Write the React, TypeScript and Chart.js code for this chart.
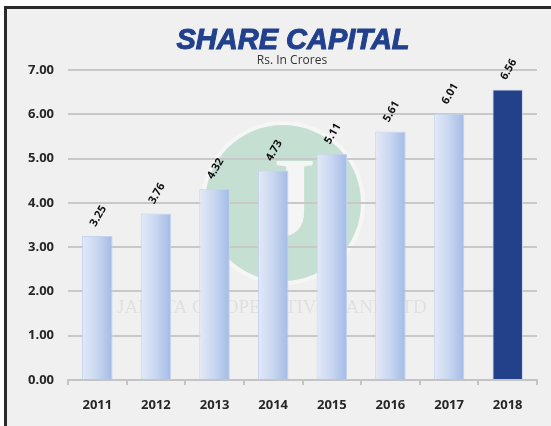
import React, { useEffect, useRef } from "react";
import { Chart, registerables } from "chart.js";

Chart.register(...registerables);

const categories = ["2011", "2012", "2013", "2014", "2015", "2016", "2017", "2018"];
const shareCapital = [3.25, 3.76, 4.32, 4.73, 5.11, 5.61, 6.01, 6.56];
const yTicks = [0, 1, 2, 3, 4, 5, 6, 7];
const titleText = "SHARE CAPITAL";
const subtitleText = "Rs. In Crores";
const watermarkText = "JANATA CO-OPERATIVE BANK LTD";

const W = 551;
const H = 426;

export default function App() {
  const ref = useRef<HTMLCanvasElement | null>(null);

  useEffect(() => {
    const canvas = ref.current;
    if (!canvas) return;

    const barPct = 0.52;

    const barFill = (c: any) => {
      const chart = c.chart;
      const i = c.dataIndex;
      if (i === categories.length - 1) return "#23418a";
      const xs = chart.scales && chart.scales.x;
      if (!xs || i === undefined) return "#c4d3ef";
      const cx = xs.getPixelForValue(i);
      const w = (xs.width / categories.length) * barPct;
      if (!Number.isFinite(cx) || !Number.isFinite(w) || w <= 0) return "#c4d3ef";
      const g = chart.ctx.createLinearGradient(cx - w / 2, 0, cx + w / 2, 0);
      g.addColorStop(0, "#e3eaf7");
      g.addColorStop(0.5, "#c8d6f0");
      g.addColorStop(1, "#a3bbe6");
      return g;
    };

    const decor = {
      id: "decor",
      beforeDraw(chart: any) {
        const ctx = chart.ctx;
        ctx.save();
        ctx.beginPath();
        ctx.arc(283, 203, 82, 0, Math.PI * 2);
        ctx.fillStyle = "#f6f6f6";
        ctx.fill();
        ctx.beginPath();
        ctx.arc(283, 203, 78, 0, Math.PI * 2);
        ctx.fillStyle = "#c5e0d3";
        ctx.fill();
        ctx.fillStyle = "#f5f5f5";
        ctx.font = "bold 115px 'Liberation Serif'";
        ctx.textAlign = "center";
        ctx.textBaseline = "middle";
        ctx.fillText("J", 287, 206);
        ctx.fillStyle = "#e0e0e0";
        ctx.font = "19px 'Liberation Serif'";
        ctx.textAlign = "left";
        ctx.textBaseline = "middle";
        ctx.fillText(watermarkText, 117, 308, 318);
        ctx.restore();
      },
      afterDraw(chart: any) {
        const ctx = chart.ctx;
        ctx.save();
        ctx.fillStyle = "#21408d";
        ctx.strokeStyle = "#21408d";
        ctx.lineWidth = 1;
        ctx.font = "italic bold 29px 'Liberation Sans'";
        ctx.textAlign = "center";
        ctx.textBaseline = "alphabetic";
        ctx.fillText(titleText, 293, 49);
        ctx.strokeText(titleText, 293, 49);
        ctx.fillStyle = "#333333";
        ctx.font = "12px 'Open Sans'";
        ctx.textBaseline = "middle";
        ctx.fillText(subtitleText, 292, 61);
        const meta = chart.getDatasetMeta(0);
        ctx.fillStyle = "#111111";
        ctx.font = "bold 11px 'Open Sans'";
        ctx.textAlign = "center";
        ctx.textBaseline = "middle";
        meta.data.forEach((el: any, i: number) => {
          ctx.save();
          ctx.translate(el.x + 1, el.y - 20);
          ctx.rotate((-60 * Math.PI) / 180);
          ctx.fillText(shareCapital[i].toFixed(2), 0, 0);
          ctx.restore();
        });
        ctx.restore();
      },
    };

    const chart = new Chart(canvas, {
      type: "bar",
      data: {
        labels: categories,
        datasets: [
          {
            data: shareCapital,
            backgroundColor: barFill,
            borderColor: (c: any) => (c.dataIndex === categories.length - 1 ? "#c9d4e8" : "#c3d3ee"),
            borderWidth: 1,
            categoryPercentage: 1,
            barPercentage: barPct,
          },
        ],
      },
      options: {
        responsive: false,
        animation: false,
        devicePixelRatio: 1,
        layout: { padding: { top: 70, right: 14, bottom: 0, left: 0 } },
        plugins: {
          legend: { display: false },
          title: { display: false },
          tooltip: { enabled: false },
        },
        scales: {
          y: {
            min: 0,
            max: 7,
            afterFit: (s: any) => {
              s.width = 68;
            },
            afterBuildTicks: (s: any) => {
              s.ticks = yTicks.map((v) => ({ value: v }));
            },
            border: { display: false },
            grid: { color: "#c8c8c8", lineWidth: 2, drawTicks: false },
            ticks: {
              padding: 14,
              color: "#262626",
              font: { family: "'Open Sans'", size: 13, weight: "bold" },
              callback: (v: any) => Number(v).toFixed(2),
            },
          },
          x: {
            afterFit: (s: any) => {
              s.height = 46;
            },
            border: { display: true, color: "#c4c4c4", width: 2 },
            grid: {
              offset: true,
              drawOnChartArea: false,
              drawTicks: true,
              tickLength: 5,
              color: "#c4c4c4",
              lineWidth: 2,
            },
            ticks: {
              padding: 12,
              color: "#262626",
              font: { family: "'Open Sans'", size: 13, weight: "bold" },
            },
          },
        },
      },
      plugins: [decor],
    } as any);

    return () => chart.destroy();
  }, []);

  return (
    <div style={{ position: "absolute", left: 0, top: 0, width: W, height: H, background: "#ffffff", overflow: "hidden" }}>
      <div
        style={{
          position: "absolute",
          left: 4,
          top: 6,
          right: 0,
          bottom: 0,
          borderLeft: "3px solid #2b2b2b",
          borderTop: "3px solid #2b2b2b",
          background: "#f0f0f0",
        }}
      />
      <canvas ref={ref} width={W} height={H} style={{ position: "absolute", left: 0, top: 0, width: W, height: H }} />
    </div>
  );
}
